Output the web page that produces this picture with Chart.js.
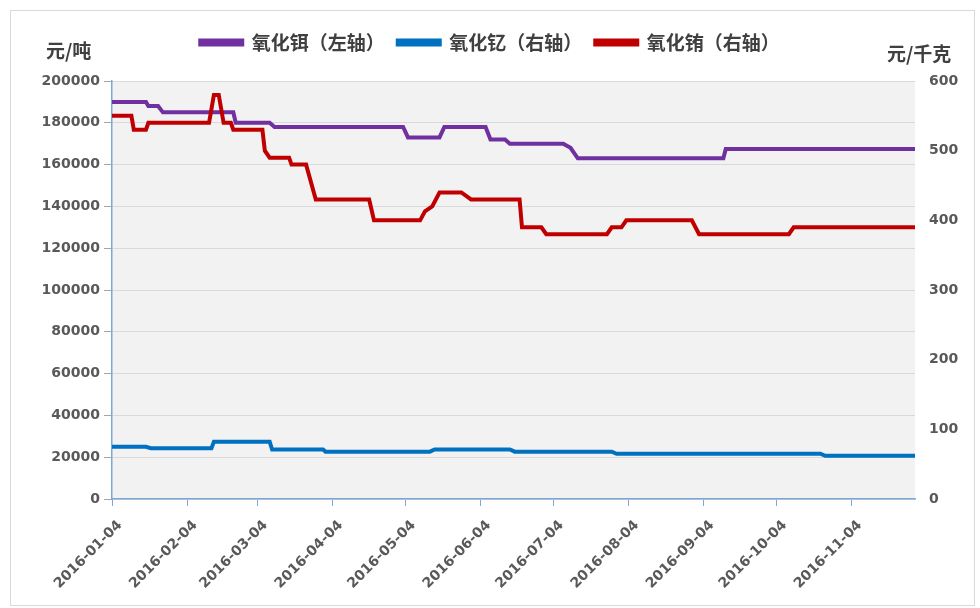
<!DOCTYPE html>
<html>
<head>
<meta charset="utf-8">
<script src="https://cdn.jsdelivr.net/npm/chart.js@4.4.0/dist/chart.umd.min.js"></script>
<style>
  html, body { margin: 0; padding: 0; background: #fff; }
  #wrap { position: relative; width: 980px; height: 608px; }
  #frame { position: absolute; left: 10px; top: 10px; width: 965px; height: 596px; border: 1px solid #d9d9d9; box-sizing: border-box; pointer-events: none; }
  .unit { position: absolute; font-family: "Noto Sans CJK SC", sans-serif; font-weight: bold; font-size: 19px; color: #404040; line-height: 1; white-space: nowrap; }
</style>
</head>
<body>
<div id="wrap">
  <canvas id="chart" width="980" height="608"></canvas>
  <div id="frame"></div>
  <div class="unit" style="left:46px; top:40px;">元/吨</div>
  <div class="unit" style="left:887px; top:43px;">元/千克</div>
</div>
<script>
// x tick labels (monthly)
const tickDates = ['2016-01-04', '2016-02-04', '2016-03-04', '2016-04-04', '2016-05-04', '2016-06-04',
                   '2016-07-04', '2016-08-04', '2016-09-04', '2016-10-04', '2016-11-04'];
const lastDate = '2016-11-30';

// 氧化铒 (左轴, 元/吨)
const erDates = ['2016-01-04', '2016-01-18', '2016-01-19', '2016-01-23', '2016-01-25', '2016-02-23', '2016-02-24',
                 '2016-03-09', '2016-03-11', '2016-05-03', '2016-05-05', '2016-05-18', '2016-05-20', '2016-06-06',
                 '2016-06-08', '2016-06-14', '2016-06-16', '2016-07-08', '2016-07-11', '2016-07-14', '2016-09-12',
                 '2016-09-13', '2016-11-30'];
const erValues = [190000, 190000, 188000, 188000, 185000, 185000, 180000,
                  180000, 178000, 178000, 173000, 173000, 178000, 178000,
                  172000, 172000, 170000, 170000, 168000, 163000, 163000,
                  167500, 167500];

// 氧化钇 (右轴, 元/千克)
const yDates = ['2016-01-04', '2016-01-18', '2016-01-20', '2016-02-14', '2016-02-15', '2016-03-09', '2016-03-10',
                '2016-03-31', '2016-04-01', '2016-05-14', '2016-05-16', '2016-06-16', '2016-06-18', '2016-07-28',
                '2016-07-30', '2016-10-22', '2016-10-24', '2016-11-30'];
const yValues = [75, 75, 73, 73, 82, 82, 71,
                 71, 68, 68, 71, 71, 68, 68,
                 65, 65, 62, 62];

// 氧化铕 (右轴, 元/千克)
const euDates = ['2016-01-04', '2016-01-12', '2016-01-13', '2016-01-18', '2016-01-19', '2016-02-13', '2016-02-15',
                 '2016-02-17', '2016-02-19', '2016-02-22', '2016-02-23', '2016-03-06', '2016-03-07', '2016-03-09',
                 '2016-03-17', '2016-03-18', '2016-03-24', '2016-03-28', '2016-04-19', '2016-04-21', '2016-05-10',
                 '2016-05-12', '2016-05-15', '2016-05-18', '2016-05-27', '2016-05-31', '2016-06-20', '2016-06-21',
                 '2016-06-29', '2016-07-01', '2016-07-26', '2016-07-28', '2016-08-01', '2016-08-03', '2016-08-30',
                 '2016-09-02', '2016-10-09', '2016-10-11', '2016-11-30'];
const euValues = [550, 550, 530, 530, 540, 540, 580,
                  580, 540, 540, 530, 530, 500, 490,
                  490, 480, 480, 430, 430, 400, 400,
                  413, 420, 440, 440, 430, 430, 390,
                  390, 380, 380, 390, 390, 400, 400,
                  380, 380, 390, 390];

const seriesNames = ['氧化铒（左轴）', '氧化钇（右轴）', '氧化铕（右轴）'];
const seriesColors = ['#7030A0', '#0070C0', '#C00000'];

const startMs = Date.parse(tickDates[0]);
function dayOf(d) {
    return Math.round((Date.parse(d) - startMs) / 86400000);
}
function toPoints(dates, values) {
    return dates.map((d, i) => ({ x: dayOf(d), y: values[i] }));
}

const tickDays = tickDates.map(dayOf);
const labelFont = { family: 'DejaVu Sans', size: 14, weight: 'bold' };
const axisBlue = '#7EA6D6';

// grey plot area
const plotBg = {
    id: 'plotBg',
    beforeDraw(chart) {
        const a = chart.chartArea;
        const c = chart.ctx;
        c.save();
        c.fillStyle = '#F2F2F2';
        c.fillRect(a.left, a.top, a.right - a.left, a.bottom - a.top);
        c.restore();
    }
};

// make the legend box tall enough so the plot starts at the right place
const legendHeight = {
    id: 'legendHeight',
    beforeInit(chart) {
        const fit = chart.legend.fit;
        chart.legend.fit = function() {
            fit.call(this);
            this.height = 61;
        };
    }
};

const ctx = document.getElementById('chart').getContext('2d');
new Chart(ctx, {
    type: 'line',
    data: {
        datasets: [
            { label: seriesNames[0], data: toPoints(erDates, erValues), yAxisID: 'y', order: 2 },
            { label: seriesNames[1], data: toPoints(yDates, yValues), yAxisID: 'y1', order: 1 },
            { label: seriesNames[2], data: toPoints(euDates, euValues), yAxisID: 'y1', order: 0 }
        ].map((ds, i) => Object.assign(ds, {
            borderColor: seriesColors[i],
            backgroundColor: seriesColors[i],
            borderWidth: 4,
            pointRadius: 0,
            tension: 0,
            fill: false
        }))
    },
    options: {
        responsive: false,
        animation: false,
        layout: { padding: { top: 20, left: 0, right: 0, bottom: 0 } },
        plugins: {
            tooltip: { enabled: false },
            legend: {
                position: 'top',
                labels: {
                    boxWidth: 42,
                    boxHeight: 4,
                    padding: 13,
                    color: '#404040',
                    font: { family: 'Noto Sans CJK SC', size: 19, weight: 'bold' },
                    sort: (a, b) => a.datasetIndex - b.datasetIndex
                }
            }
        },
        scales: {
            x: {
                type: 'linear',
                min: 0,
                max: dayOf(lastDate),
                afterBuildTicks: scale => {
                    scale.ticks = tickDays.map(v => ({ value: v }));
                },
                afterFit: scale => { scale.height = 109; },
                ticks: {
                    autoSkip: false,
                    minRotation: 45,
                    maxRotation: 45,
                    labelOffset: 8,
                    padding: 11,
                    color: '#595959',
                    font: labelFont,
                    callback: v => tickDates[tickDays.indexOf(v)]
                },
                grid: { drawOnChartArea: false, tickLength: 7, tickColor: axisBlue },
                border: { color: axisBlue, width: 1.5 }
            },
            y: {
                position: 'left',
                min: 0,
                max: 200000,
                afterFit: scale => { scale.width = 112; },
                ticks: {
                    stepSize: 20000,
                    padding: 4,
                    color: '#595959',
                    font: labelFont,
                    callback: v => String(v)
                },
                grid: { color: '#D9D9D9', tickColor: '#A6A6A6', tickLength: 8 },
                border: { color: axisBlue, width: 1.5 }
            },
            y1: {
                position: 'right',
                min: 0,
                max: 600,
                afterFit: scale => { scale.width = 65; },
                ticks: {
                    stepSize: 100,
                    padding: 14,
                    color: '#595959',
                    font: labelFont,
                    callback: v => String(v)
                },
                grid: { drawOnChartArea: false, drawTicks: false },
                border: { display: false }
            }
        }
    },
    plugins: [plotBg, legendHeight]
});
</script>
</body>
</html>
